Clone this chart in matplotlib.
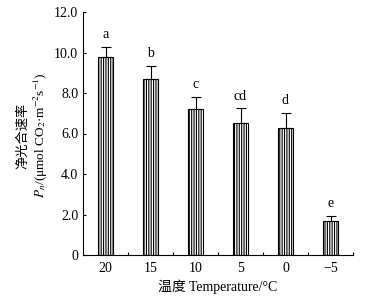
import numpy as np
import matplotlib
matplotlib.use('Agg')
from matplotlib import pyplot as plt

plt.rcParams['font.family'] = ['Liberation Serif', 'Noto Sans CJK SC']
plt.rcParams['mathtext.fontset'] = 'stix'
plt.rcParams['hatch.color'] = '#808080'
plt.rcParams['hatch.linewidth'] = 0.8

temps = ['20', '15', '10', '5', '0', '\u22125']
pn = [9.76, 8.71, 7.19, 6.53, 6.26, 1.66]
err = [0.53, 0.64, 0.63, 0.71, 0.77, 0.28]
letters = ['a', 'b', 'c', 'cd', 'd', 'e']

fig = plt.figure(figsize=(3.84, 2.97), dpi=100)
ax = fig.add_axes([83/384, 1-255/297, 270/384, 243/297])

x = np.arange(len(temps))
ax.bar(x, pn, width=0.33, color='white', edgecolor='black', linewidth=0.8,
       hatch='|||||||', zorder=2)
ax.errorbar(x, pn, yerr=[np.zeros(len(err)), err], fmt='none', ecolor='black',
            elinewidth=0.8, capsize=3.8, capthick=0.8, zorder=3)
for xi, v, e, l in zip(x, pn, err, letters):
    ax.text(xi, v+e+0.42, l, ha='center', va='baseline', fontsize=10)

ax.set_xlim(-0.5, 5.5)
ax.set_ylim(0, 12)
ax.set_yticks(np.arange(0, 12.1, 2))
ax.set_yticklabels(['0'] + ['%.1f' % v for v in np.arange(2, 12.1, 2)])
ax.set_xticks(x)
ax.set_xticklabels(temps)
ax.set_xticks(np.arange(0.5, 5.6, 1), minor=True)
ax.tick_params(axis='x', which='major', length=0, labelsize=10, pad=5)
ax.tick_params(axis='x', which='minor', direction='in', length=2.5, width=0.8)
ax.tick_params(axis='y', direction='in', length=2.5, width=0.8, labelsize=10, pad=3.5)
ax.spines['top'].set_visible(False)
ax.spines['right'].set_visible(False)
for s in ['left', 'bottom']:
    ax.spines[s].set_linewidth(0.8)

fig.text(218/384, 1-287/297, '温度 Temperature/°C', fontsize=10,
         ha='center', va='center')
fig.text(23/384, 1-136/297, '净光合速率', fontsize=9.5, rotation=90,
         ha='center', va='center')
fig.text(41/384, 1-135/297, '$P_{n}$/(μmol CO$_2$·m$^{-2}$s$^{-1}$)', fontsize=9.5,
         rotation=90, ha='center', va='center')

fig.savefig('out.png', dpi=100)
